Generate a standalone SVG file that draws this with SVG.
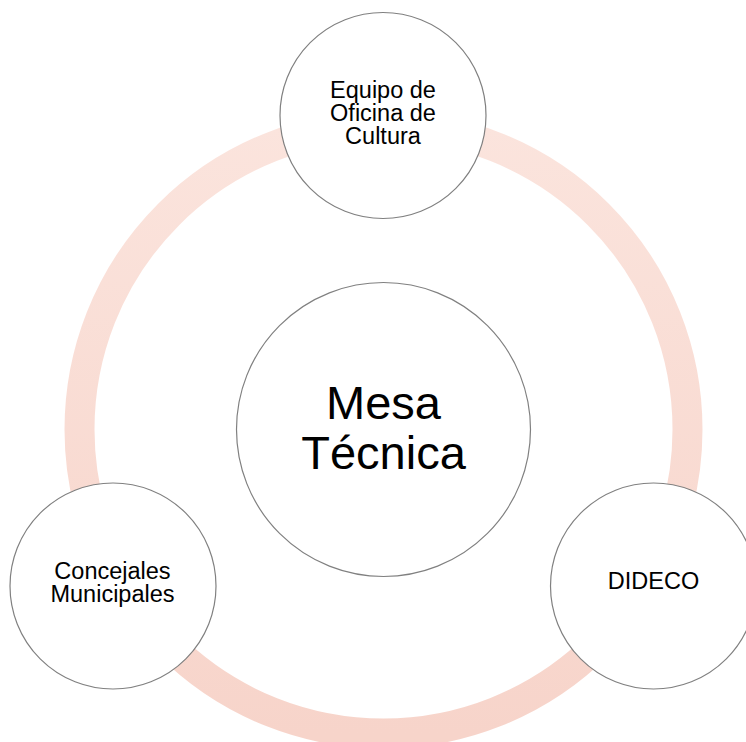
<svg xmlns="http://www.w3.org/2000/svg" width="746" height="742" viewBox="0 0 746 742">
<defs>
<linearGradient id="ringGrad" x1="0" y1="0" x2="0" y2="1">
<stop offset="0" stop-color="#fbe4dd"/>
<stop offset="1" stop-color="#f7d4ca"/>
</linearGradient>
<style>
.node{fill:#ffffff;stroke:#808080;stroke-width:1.2}
.lbl{font-family:"Liberation Sans",Arial,sans-serif;fill:#000000;text-anchor:middle}
.sm{font-size:23.5px}
.big{font-size:47px}
</style>
</defs>
<rect width="746" height="742" fill="#ffffff"/>
<g id="connectors">
<circle cx="383.5" cy="429.5" r="304" fill="none" stroke="url(#ringGrad)" stroke-width="30"/>
</g>
<g id="center">
<circle class="node" cx="383.5" cy="429.5" r="147"/>
<text class="lbl big" x="383.5" y="419">Mesa</text>
<text class="lbl big" x="383.5" y="469">Técnica</text>
</g>
<g id="top">
<circle class="node" cx="383" cy="115.5" r="103"/>
<text class="lbl sm" x="383" y="97.7">Equipo de</text>
<text class="lbl sm" x="383" y="121">Oficina de</text>
<text class="lbl sm" x="383" y="144.3">Cultura</text>
</g>
<g id="left">
<circle class="node" cx="113" cy="586" r="103"/>
<text class="lbl sm" x="112.5" y="579">Concejales</text>
<text class="lbl sm" x="112.5" y="602">Municipales</text>
</g>
<g id="right">
<circle class="node" cx="653.5" cy="586" r="103"/>
<text class="lbl sm" x="653.5" y="589">DIDECO</text>
</g>
</svg>
